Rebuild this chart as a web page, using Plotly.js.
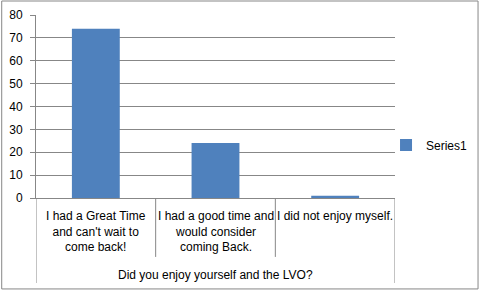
<!DOCTYPE html>
<html>
<head>
<meta charset="utf-8">
<script src="https://cdn.plot.ly/plotly-3.0.1.min.js"></script>
<style>
html,body{margin:0;padding:0;background:#fff;}
#chart{width:485px;height:293px;}
</style>
</head>
<body>
<div id="chart"></div>
<script>
var categories = ["I had a Great Time<br>and can't wait to<br>come back!", "I had a good time and<br>would consider<br>coming Back.", "I did not enjoy myself."];
var groupLabel = "Did you enjoy yourself and the LVO?";
var seriesName = "Series1";
var values = [74, 24, 1];
var yTicks = [0, 10, 20, 30, 40, 50, 60, 70, 80];

var FONT = "Liberation Sans, Arial, sans-serif";
var GRID = "#878787";
var idx = categories.map(function(c, i){ return i; });

var trace = {
  type: "bar",
  x: idx,
  y: values,
  name: seriesName,
  marker: {color: "#4F81BD"},
  width: 0.4,
  showlegend: true,
  hoverinfo: "y"
};

var annotations = categories.map(function(c, i){
  return {x: i, xref: "x", y: 0, yref: "paper", yanchor: "top", yshift: -9,
          text: c, showarrow: false, align: "center",
          font: {family: FONT, size: 12, color: "#000"}};
});
annotations.push({x: 0.5, xref: "paper", y: 0, yref: "paper", yanchor: "middle", yshift: -77,
  text: groupLabel, showarrow: false, font: {family: FONT, size: 12, color: "#000"}});

var shapes = [];
// inner dividers between categories
for (var i = 0; i < categories.length - 1; i++) {
  shapes.push({type: "line", xref: "x", yref: "paper", x0: i + 0.5, x1: i + 0.5, y0: 0, y1: -0.322,
    line: {color: GRID, width: 1}});
}
// outer dividers
[-0.5, categories.length - 0.5].forEach(function(xv){
  shapes.push({type: "line", xref: "x", yref: "paper", x0: xv, x1: xv, y0: 0, y1: -0.4645,
    line: {color: GRID, width: 1}});
});
// chart border
shapes.push({type: "rect", xref: "paper", yref: "paper", x0: -0.0955, x1: 1.2313, y0: -0.497, y1: 1.0765,
  line: {color: GRID, width: 1}, fillcolor: "rgba(0,0,0,0)"});

var layout = {
  width: 485, height: 293,
  margin: {l: 36, r: 88, t: 15, b: 95},
  paper_bgcolor: "#fff", plot_bgcolor: "#fff",
  showlegend: true,
  font: {family: FONT, size: 12, color: "#000"},
  xaxis: {
    range: [-0.5, categories.length - 0.5],
    showticklabels: false, showgrid: false, zeroline: false,
    showline: true, linecolor: GRID, linewidth: 1,
    ticks: "", fixedrange: true
  },
  yaxis: {
    range: [0, 80], tickvals: yTicks, ticktext: yTicks.map(String),
    showgrid: true, gridcolor: GRID, gridwidth: 1,
    zeroline: false, showline: true, linecolor: GRID, linewidth: 1,
    ticks: "outside", ticklen: 5, tickcolor: GRID,
    ticklabelstandoff: 5,
    tickfont: {family: FONT, size: 12, color: "#000"},
    fixedrange: true
  },
  legend: {
    x: 0.975, xanchor: "left", y: 0.29, yanchor: "middle",
    bgcolor: "rgba(0,0,0,0)", borderwidth: 0,
    font: {family: FONT, size: 12, color: "#000"},
    itemwidth: 30
  },
  annotations: annotations,
  shapes: shapes,
  bargap: 0.6
};

Plotly.newPlot("chart", [trace], layout, {staticPlot: true, displayModeBar: false});
</script>
</body>
</html>
